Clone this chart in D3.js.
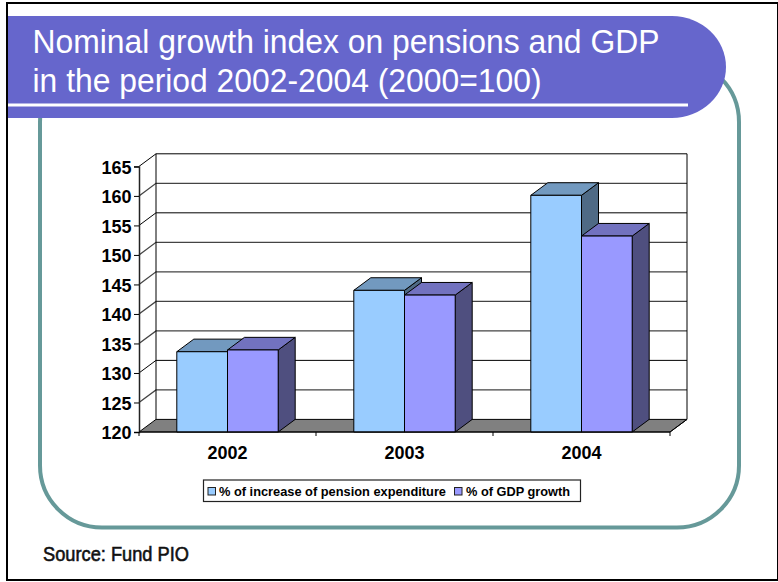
<!DOCTYPE html>
<html><head><meta charset="utf-8">
<script src="https://cdn.jsdelivr.net/npm/d3@7"></script>
<style>html,body{margin:0;padding:0;background:#fff}svg{display:block}text{font-family:"Liberation Sans",Arial,sans-serif}</style>
</head><body><svg id="c" width="778" height="582"></svg>
<script>
const categories=["2002","2003","2004"];
const seriesNames=["% of increase of pension expenditure","% of GDP growth"];
const pension=[133.6,144.0,160.1];
const gdp=[133.9,143.2,153.2];
const yTicks=[120,125,130,135,140,145,150,155,160,165];
const titleLines=["Nominal growth index on pensions and GDP","in the period 2002-2004 (2000=100)"];
const source="Source: Fund PIO";
const seriesValues=[pension,gdp];
const faceColors=["#99ccff","#9999ff"];
const topColors=["#7299bf","#7272bf"];
const sideColors=["#4f6a85","#4f4f7f"];

const svg=d3.select("#c");
const L=139,R=670,B=432,T=166.4,dx=17,dy=-12.6;
const x=d3.scaleBand().domain(categories).range([L,R]);
const y=d3.scaleLinear().domain([120,165]).range([B,T]);
const barW=50.7;
const inner=d3.scaleBand().domain([0,1]).range([0,barW*2]);
const teal="#669999";

// frame
svg.append("rect").attr("x",7).attr("y",3).attr("width",771).attr("height",577).attr("fill","#fff").attr("stroke","#000").attr("stroke-width",2);

// rounded panel
svg.append("rect").attr("x",40).attr("y",60).attr("width",699).attr("height",467.5).attr("rx",62).attr("ry",62)
 .attr("fill","#fff").attr("stroke",teal).attr("stroke-width",4);

// title banner
svg.append("path").attr("d","M8,16H672A54,51 0 0 1 726,67A54,51 0 0 1 672,118H8Z").attr("fill","#6666cc");
svg.append("rect").attr("x",8).attr("y",103.5).attr("width",680).attr("height",3).attr("fill","#fff");
svg.selectAll("text.title").data(titleLines).join("text").attr("class","title")
 .attr("x",32.5).attr("y",(d,i)=>53+i*39).attr("font-size",33).attr("fill","#fff").text(d=>d)
 .attr("textLength",(d,i)=>i?509:627).attr("lengthAdjust","spacingAndGlyphs");

// 3D walls
const g=svg.append("g");
g.append("path").attr("d",`M${L},${B}L${L+dx},${B+dy}H${R+dx}L${R},${B}Z`).attr("fill","#808080").attr("stroke","#000").attr("stroke-width",1);
yTicks.forEach(t=>{
  if(t>120){
    const dark=t===130||t===155||t===165;
    g.append("path").attr("d",`M${L},${y(t)}L${L+dx},${y(t)+dy}H${R+dx}`).attr("fill","none").attr("stroke",dark?"#000":"#444").attr("stroke-width",dark?1:1.3);
  }
});
g.append("path").attr("d",`M${L+dx},${T+dy}V${B+dy}M${R+dx},${T+dy}V${B+dy}L${R},${B}`).attr("fill","none").attr("stroke","#000");

// bars
categories.forEach((c,i)=>{
  const x0=x(c)+(x.bandwidth()-barW*2)/2;
  seriesValues.forEach((vals,s)=>{
    const xa=x0+inner(s),w=inner.bandwidth(),yt=y(vals[i]);
    const bar=g.append("g").attr("stroke","#000").attr("stroke-width",1).attr("stroke-linejoin","round");
    bar.append("path").attr("d",`M${xa+w},${B}L${xa+w+dx},${B+dy}V${yt+dy}L${xa+w},${yt}Z`).attr("fill",sideColors[s]);
    bar.append("path").attr("d",`M${xa},${yt}L${xa+dx},${yt+dy}H${xa+w+dx}L${xa+w},${yt}Z`).attr("fill",topColors[s]);
    bar.append("rect").attr("x",xa).attr("y",yt).attr("width",w).attr("height",B-yt).attr("fill",faceColors[s]);
  });
});

// axes
const yAxis=d3.axisLeft(y).tickValues(yTicks).tickSize(5).tickPadding(2.5);
const ya=g.append("g").attr("transform",`translate(${L},0)`).call(yAxis);
ya.select(".domain").attr("stroke","#222").attr("stroke-width",1.5);
ya.selectAll("text").attr("font-size",18).attr("font-weight","bold").attr("fill","#000").attr("dy","0.38em");
const tickPos=categories.map(c=>x(c)).concat([R]);
g.append("path").attr("d",`M${L},${B}H${R}`).attr("stroke","#000").attr("stroke-width",1.2);
g.selectAll("line.xt").data(tickPos).join("line").attr("class","xt").attr("x1",d=>d).attr("x2",d=>d).attr("y1",B).attr("y2",B+4).attr("stroke","#000");
g.selectAll("text.xl").data(categories).join("text").attr("class","xl").attr("x",d=>x(d)+x.bandwidth()/2).attr("y",459)
 .attr("text-anchor","middle").attr("font-size",18).attr("font-weight","bold").text(d=>d);

// legend
const lg=svg.append("g");
lg.append("rect").attr("x",203.5).attr("y",480).attr("width",377).attr("height",21.5).attr("fill","#fff").attr("stroke","#222").attr("stroke-width",1.2);
[[208,0,219,227],[454.5,1,466,104]].forEach(([sx,s,tx,tw])=>{
  lg.append("rect").attr("x",sx).attr("y",487.5).attr("width",7.5).attr("height",7.5).attr("fill",faceColors[s]).attr("stroke","#222");
  lg.append("text").attr("x",tx).attr("y",496).attr("font-size",13).attr("font-weight","bold")
    .attr("textLength",tw).attr("lengthAdjust","spacingAndGlyphs").text(seriesNames[s]);
});
svg.append("text").attr("x",43).attr("y",560.5).attr("font-size",21).attr("fill","#111").attr("stroke","#111").attr("stroke-width",.6)
 .attr("textLength",146).attr("lengthAdjust","spacingAndGlyphs").text(source);
</script></body></html>
